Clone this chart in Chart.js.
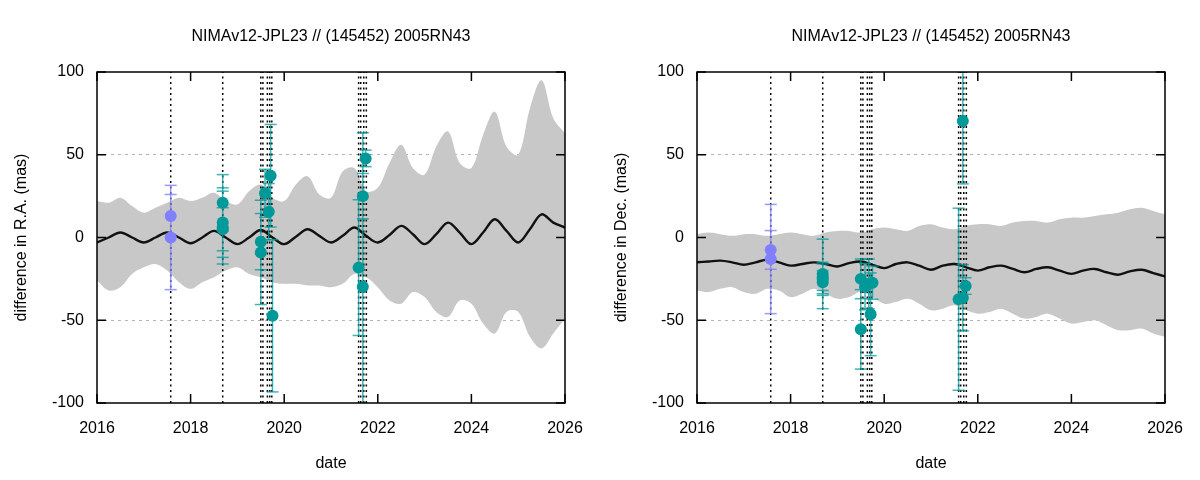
<!DOCTYPE html>
<html><head><meta charset="utf-8">
<script src="https://cdn.jsdelivr.net/npm/chart.js@4.4.0/dist/chart.umd.min.js"></script>
<style>
html,body{margin:0;padding:0;background:#fff;}
#wrap{position:relative;width:1200px;height:480px;background:#fff;}
.panel{position:absolute;top:0;width:600px;height:480px;}
</style></head><body>
<div id="wrap">
<div class="panel" style="left:0"><canvas id="c1" width="600" height="480"></canvas></div>
<div class="panel" style="left:600px"><canvas id="c2" width="600" height="480"></canvas></div>
</div>
<script>
const chartTitle = 'NIMAv12-JPL23 // (145452) 2005RN43';
const xAxisTitle = 'date';
const raAxisTitle = 'difference in R.A. (mas)';
const decAxisTitle = 'difference in Dec. (mas)';
const xTickLabels = [2016, 2018, 2020, 2022, 2024, 2026];
const yTickLabels = [-100, -50, 0, 50, 100];

// observation epochs (vertical dotted lines)
const obsDates = [2017.575, 2018.686, 2019.50, 2019.545, 2019.64, 2019.69, 2019.735, 2021.59, 2021.635, 2021.70, 2021.755];

// uncertainty band sampling
const bandYears = [2016.00,2016.25,2016.50,2016.75,2017.00,2017.25,2017.50,2017.75,2018.00,2018.25,2018.50,2018.75,2019.00,2019.25,2019.50,2019.75,2020.00,2020.25,2020.50,2020.75,2021.00,2021.25,2021.50,2021.75,2022.00,2022.25,2022.50,2022.75,2023.00,2023.25,2023.50,2023.75,2024.00,2024.25,2024.50,2024.75,2025.00,2025.25,2025.50,2025.75,2026.00];

const raCenter = [-3,0,3,0,-3,0,3,0,-3.5,0,4,0,-4,0,4.5,0,-4,0.5,5,1,-3,1,6,1,-3,1.5,7,2,-4,2,9,3,-4,3,11,4,-3,5,14,9,6];
const raUpper  = [22,21,24,19,15,18,21,24,22,24,27,22,20,28,32,24,22,32,37,26,24,40,42,28,30,45,56,42,38,55,64,45,42,62,76,55,50,78,95,72,63];
const raLower  = [-26,-32,-30,-22,-18,-16,-20,-27,-31,-27,-24,-20,-18,-22,-24,-27,-28,-28,-29,-29,-30,-28,-22,-24,-30,-38,-40,-33,-36,-45,-48,-38,-40,-52,-58,-45,-45,-60,-67,-58,-49];

const decCenter = [-15,-14.5,-14,-15,-16.5,-15,-13.5,-15,-17,-16,-15,-16,-17.5,-15.5,-14.5,-16.5,-18.5,-16,-15,-17,-19.5,-17,-16,-18,-20,-18,-17,-19,-21,-19,-18,-20,-22,-20,-19,-21,-22.5,-20.5,-19.5,-21.5,-23.5];
const decUpper  = [2,3,2,1,2,2,1,2,3,2,1,3,4,4,3,5,6,5,4,7,8,6,5,7,8,8,7,9,10,10,9,11,12,12,13,14,15,17,18,16,14];
const decLower  = [-32,-33,-31,-30,-33,-34,-31,-32,-36,-34,-31,-34,-37,-36,-33,-36,-40,-39,-37,-40,-44,-43,-41,-44,-46,-45,-43,-46,-49,-48,-46,-49,-52,-51,-50,-53,-56,-56,-55,-58,-60];

// observations: blue set
const blueDates  = [2017.575, 2017.575];
const raBlue     = [13, 0];
const raBlueErr  = [13, 31.5];
const decBlue    = [-7.5, -13];
const decBlueErr = [11.7, 33];

// observations: teal set
const tealDates  = [2018.686,2018.686,2018.686,2018.686,2019.50,2019.50,2019.59,2019.67,2019.71,2019.75,2021.59,2021.68,2021.68,2021.74];
const raTeal     = [21, 9, 6, 5, -2.5, -9, 26.7, 15.6, 37.3, -47.3, -18.2, 25, -29.7, 47.8];
const raTealErr  = [17, 21, 22, 13, 17, 31.5, 14.5, 17, 31, 46, 41, 13.7, 93, 5];
const decTeal    = [-22, -25, -27, -24, -25, -55.5, -29.7, -28, -46.4, -27.3, -37.3, -36.4, 70.4, -29.3];
const decTealErr = [21, 10, 7, 8, 12, 24, 14, 15, 25, 10, 55, 20, 38, 5];

const TEAL = '#009999';
const TEAL_BAR = 'rgba(0,153,153,0.75)';
const BLUE = '#8080ff';
const BLUE_BAR = 'rgba(128,128,255,0.8)';
const FONT = '"Liberation Sans", Arial, sans-serif';

function xy(xs, ys) { return xs.map((x, i) => ({x: x, y: ys[i]})); }
function errSegs(xs, ys, es) {
  const out = [];
  xs.forEach((x, i) => {
    out.push({x: x, y: ys[i] - es[i]});
    out.push({x: x, y: ys[i] + es[i]});
    out.push({x: x, y: null});
  });
  return out;
}
function vSegs(xs) {
  const out = [];
  xs.forEach(x => {
    out.push({x: x, y: -100});
    out.push({x: x, y: 100});
    out.push({x: x, y: null});
  });
  return out;
}

const framePlugin = {
  id: 'frame',
  afterDatasetsDraw(chart) {
    const {ctx, chartArea: a, scales: {x, y}} = chart;
    ctx.save();
    ctx.strokeStyle = '#000';
    ctx.lineWidth = 1.5;
    ctx.beginPath();
    xTickLabels.forEach(v => {
      const px = x.getPixelForValue(v);
      ctx.moveTo(px, a.bottom); ctx.lineTo(px, a.bottom - 9);
      ctx.moveTo(px, a.top); ctx.lineTo(px, a.top + 9);
    });
    yTickLabels.forEach(v => {
      const py = y.getPixelForValue(v);
      ctx.moveTo(a.left, py); ctx.lineTo(a.left + 9, py);
      ctx.moveTo(a.right, py); ctx.lineTo(a.right - 9, py);
    });
    ctx.stroke();
    ctx.strokeRect(a.left, a.top, a.right - a.left, a.bottom - a.top);
    ctx.restore();
  }
};

function makeChart(id, yTitle, center, upper, lower, bVals, bErr, tVals, tErr) {
  return new Chart(document.getElementById(id), {
    type: 'scatter',
    data: {
      datasets: [
        {data: xy(tealDates, tVals), backgroundColor: TEAL, borderWidth: 0, pointRadius: 6, pointHoverRadius: 6, order: 0},
        {data: xy(blueDates, bVals), backgroundColor: BLUE, borderWidth: 0, pointRadius: 6, pointHoverRadius: 6, order: 0},
        {data: errSegs(tealDates, tVals, tErr), showLine: true, spanGaps: false, borderColor: TEAL_BAR, borderWidth: 1.5,
         pointStyle: 'line', pointRadius: 6, pointBorderColor: TEAL_BAR, pointBorderWidth: 1.5, order: 1},
        {data: errSegs(blueDates, bVals, bErr), showLine: true, spanGaps: false, borderColor: BLUE_BAR, borderWidth: 1.5,
         pointStyle: 'line', pointRadius: 6, pointBorderColor: BLUE_BAR, pointBorderWidth: 1.5, order: 1},
        {data: xy(bandYears, center), showLine: true, borderColor: '#111', borderWidth: 2.4, pointRadius: 0, tension: 0.35, order: 2},
        {data: vSegs(obsDates), showLine: true, spanGaps: false, borderColor: '#000', borderWidth: 1.5, borderDash: [2, 3.5], pointRadius: 0, order: 3},
        {data: xy(bandYears, upper), showLine: true, borderWidth: 0, pointRadius: 0, tension: 0.35, fill: '+1', backgroundColor: '#c8c8c8', order: 4},
        {data: xy(bandYears, lower), showLine: true, borderWidth: 0, pointRadius: 0, tension: 0.35, order: 5}
      ]
    },
    options: {
      responsive: false,
      animation: false,
      devicePixelRatio: 1,
      events: [],
      layout: {padding: {left: 0, right: 35, top: 0, bottom: 0}},
      plugins: {
        legend: {display: false},
        tooltip: {enabled: false},
        title: {display: true, text: chartTitle, fullSize: false, color: '#000',
                font: {family: FONT, size: 16, weight: 'normal'}, padding: {top: 27.4, bottom: 25.4}}
      },
      scales: {
        x: {
          type: 'linear', min: 2016, max: 2026,
          afterBuildTicks: s => { s.ticks = xTickLabels.map(v => ({value: v})); },
          afterFit: s => { s.height = 77; s.paddingLeft = 0; s.paddingRight = 0; },
          grid: {display: false, drawTicks: false},
          border: {display: false},
          ticks: {color: '#000', font: {family: FONT, size: 16}, padding: 16, maxRotation: 0, callback: v => String(v)},
          title: {display: true, text: xAxisTitle, color: '#000', font: {family: FONT, size: 16}, padding: {top: 0, bottom: 6.4}}
        },
        y: {
          type: 'linear', min: -100, max: 100,
          afterBuildTicks: s => { s.ticks = yTickLabels.map(v => ({value: v})); },
          afterFit: s => { s.width = 97; s.paddingTop = 0; s.paddingBottom = 0; },
          grid: {drawTicks: false, lineWidth: 1,
                 color: c => (c.tick && Math.abs(c.tick.value) === 100) ? 'rgba(0,0,0,0)' : '#b4b4b4'},
          border: {display: false, dash: [3, 4]},
          ticks: {color: '#000', font: {family: FONT, size: 16}, padding: 13, callback: v => String(v)},
          title: {display: true, text: yTitle, color: '#000', font: {family: FONT, size: 16}, padding: {top: 12, bottom: 0}}
        }
      }
    },
    plugins: [framePlugin]
  });
}

makeChart('c1', raAxisTitle, raCenter, raUpper, raLower, raBlue, raBlueErr, raTeal, raTealErr);
makeChart('c2', decAxisTitle, decCenter, decUpper, decLower, decBlue, decBlueErr, decTeal, decTealErr);
</script>
</body></html>
